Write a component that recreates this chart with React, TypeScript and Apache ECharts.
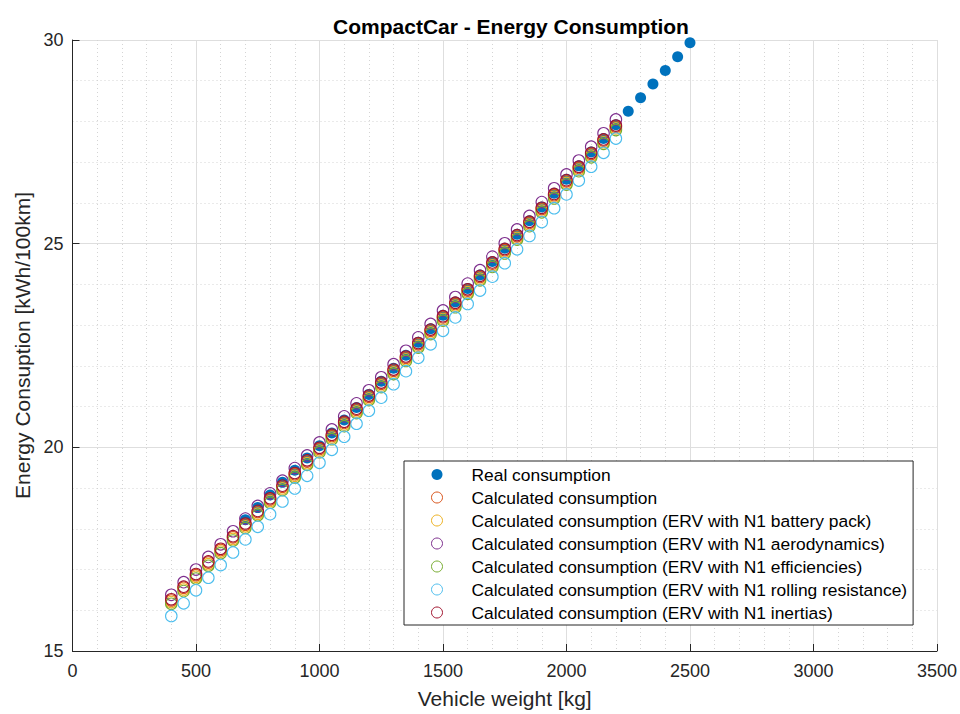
import React, { useEffect, useRef } from "react";
import * as echarts from "echarts";

const calcWeights = [400, 450, 500, 550, 600, 650, 700, 750, 800, 850, 900, 950, 1000, 1050, 1100, 1150, 1200, 1250, 1300, 1350, 1400, 1450, 1500, 1550, 1600, 1650, 1700, 1750, 1800, 1850, 1900, 1950, 2000, 2050, 2100, 2150, 2200];
const realWeights = [700, 750, 800, 850, 900, 950, 1000, 1050, 1100, 1150, 1200, 1250, 1300, 1350, 1400, 1450, 1500, 1550, 1600, 1650, 1700, 1750, 1800, 1850, 1900, 1950, 2000, 2050, 2100, 2150, 2200, 2250, 2300, 2350, 2400, 2450, 2500];

const realConsumption = [18.22, 18.52, 18.83, 19.14, 19.44, 19.74, 20.04, 20.35, 20.67, 20.98, 21.30, 21.62, 21.94, 22.26, 22.58, 22.91, 23.24, 23.57, 23.90, 24.23, 24.56, 24.89, 25.23, 25.56, 25.90, 26.24, 26.58, 26.91, 27.25, 27.58, 27.92, 28.25, 28.58, 28.92, 29.25, 29.59, 29.93];
const calculated = [16.24, 16.55, 16.86, 17.17, 17.48, 17.79, 18.10, 18.41, 18.72, 19.03, 19.34, 19.65, 19.96, 20.28, 20.60, 20.92, 21.24, 21.56, 21.88, 22.20, 22.53, 22.86, 23.19, 23.52, 23.85, 24.18, 24.51, 24.84, 25.18, 25.51, 25.85, 26.19, 26.53, 26.86, 27.20, 27.53, 27.87];
const batteryPack = [16.20, 16.51, 16.82, 17.13, 17.44, 17.75, 18.06, 18.37, 18.68, 18.99, 19.30, 19.61, 19.92, 20.24, 20.56, 20.88, 21.20, 21.52, 21.84, 22.16, 22.49, 22.82, 23.15, 23.48, 23.81, 24.14, 24.47, 24.80, 25.14, 25.47, 25.81, 26.15, 26.49, 26.82, 27.16, 27.49, 27.83];
const aerodynamics = [16.38, 16.69, 17.00, 17.31, 17.62, 17.94, 18.25, 18.56, 18.87, 19.18, 19.49, 19.80, 20.12, 20.44, 20.76, 21.08, 21.40, 21.72, 22.04, 22.37, 22.70, 23.03, 23.36, 23.69, 24.02, 24.35, 24.68, 25.01, 25.35, 25.68, 26.02, 26.36, 26.70, 27.04, 27.38, 27.71, 28.05];
const efficiencies = [16.16, 16.47, 16.78, 17.09, 17.40, 17.71, 18.02, 18.33, 18.64, 18.95, 19.26, 19.57, 19.88, 20.20, 20.52, 20.84, 21.16, 21.48, 21.80, 22.12, 22.45, 22.78, 23.11, 23.44, 23.77, 24.10, 24.43, 24.76, 25.10, 25.43, 25.77, 26.11, 26.45, 26.78, 27.12, 27.45, 27.79];
const rollingResistance = [15.86, 16.17, 16.49, 16.80, 17.11, 17.42, 17.74, 18.05, 18.36, 18.67, 18.99, 19.30, 19.62, 19.94, 20.26, 20.58, 20.90, 21.22, 21.55, 21.87, 22.20, 22.53, 22.86, 23.19, 23.52, 23.85, 24.19, 24.52, 24.86, 25.19, 25.53, 25.87, 26.21, 26.55, 26.89, 27.23, 27.58];
const inertias = [16.27, 16.58, 16.89, 17.20, 17.51, 17.82, 18.13, 18.44, 18.75, 19.06, 19.37, 19.68, 19.99, 20.31, 20.63, 20.95, 21.27, 21.59, 21.91, 22.23, 22.56, 22.89, 23.22, 23.55, 23.88, 24.21, 24.54, 24.87, 25.21, 25.54, 25.88, 26.22, 26.56, 26.89, 27.23, 27.56, 27.90];

const seriesNames = [
  "Real consumption",
  "Calculated consumption",
  "Calculated consumption (ERV with N1 battery pack)",
  "Calculated consumption (ERV with N1 aerodynamics)",
  "Calculated consumption (ERV with N1 efficiencies)",
  "Calculated consumption (ERV with N1 rolling resistance)",
  "Calculated consumption (ERV with N1 inertias)",
];
const seriesColors = ["#0072BD", "#D95319", "#EDB120", "#7E2F8E", "#77AC30", "#4DBEEE", "#A2142F"];
const calcSeries = [calculated, batteryPack, aerodynamics, efficiencies, rollingResistance, inertias];

const FONT = "'Liberation Sans', Arial, Helvetica, sans-serif";
const AX = "#262626";

export default function App() {
  const ref = useRef<HTMLDivElement>(null);
  useEffect(() => {
    if (!ref.current) return;
    const chart = echarts.init(ref.current, undefined, { renderer: "svg" });
    const zip = (xs: number[], ys: number[]) => xs.map((x, i) => [x, ys[i]]);
    const series: any[] = [
      {
        name: seriesNames[0],
        type: "scatter",
        symbol: "circle",
        symbolSize: 11,
        itemStyle: { color: seriesColors[0], opacity: 1 },
        data: zip(realWeights, realConsumption),
      },
      ...calcSeries.map((vals, i) => ({
        name: seriesNames[i + 1],
        type: "scatter",
        symbol: "circle",
        symbolSize: 11.5,
        itemStyle: { color: "transparent", borderColor: seriesColors[i + 1], borderWidth: 1.1, opacity: 1 },
        data: zip(calcWeights, vals),
      })),
    ];
    chart.setOption({
      animation: false,
      textStyle: { fontFamily: FONT },
      title: {
        text: "CompactCar - Energy Consumption",
        left: 506,
        textAlign: "center",
        top: 11,
        textStyle: { fontSize: 21, fontWeight: "bold", color: "#000", fontFamily: FONT },
      },
      grid: { left: 72.5, right: 18.5, top: 40, bottom: 59, containLabel: false },
      legend: {
        orient: "vertical",
        left: 404,
        top: 461,
        backgroundColor: "#fff",
        borderColor: AX,
        borderWidth: 1,
        borderRadius: 0,
        padding: [5, 6, 4, 27],
        itemWidth: 11,
        itemHeight: 11,
        itemGap: 6,
        itemStyle: { borderWidth: 1 },
        selectedMode: false,
        textStyle: { fontSize: 17.4, lineHeight: 16, color: "#000", fontFamily: FONT, padding: [0, 0, 0, 24] },
        data: seriesNames,
      },
      xAxis: {
        type: "value",
        min: 0,
        max: 3500,
        interval: 500,
        name: "Vehicle weight [kg]",
        nameLocation: "middle",
        nameGap: 37,
        nameTextStyle: { fontSize: 21, color: AX, fontFamily: FONT },
        axisLine: { show: true, onZero: false, lineStyle: { color: AX, width: 1 } },
        axisTick: { show: true, inside: true, length: 7, lineStyle: { color: AX } },
        axisLabel: { fontSize: 18, color: AX, margin: 11, fontFamily: FONT, formatter: (v: number) => String(v) },
        splitLine: { show: true, lineStyle: { color: "#dedede", width: 1 } },
        minorTick: { show: false, splitNumber: 5 },
        minorSplitLine: { show: true, lineStyle: { color: "#d4d4d4", type: [1, 3], width: 1 } },
      },
      yAxis: {
        type: "value",
        min: 15,
        max: 30,
        interval: 5,
        name: "Energy Consuption [kWh/100km]",
        nameLocation: "middle",
        nameGap: 36,
        nameTextStyle: { fontSize: 21, color: AX, fontFamily: FONT },
        axisLine: { show: true, onZero: false, lineStyle: { color: AX, width: 1 } },
        axisTick: { show: true, inside: true, length: 7, lineStyle: { color: AX } },
        axisLabel: { fontSize: 18, color: AX, margin: 9, fontFamily: FONT, formatter: (v: number) => String(v) },
        splitLine: { show: true, lineStyle: { color: "#dedede", width: 1 } },
        minorTick: { show: false, splitNumber: 5 },
        minorSplitLine: { show: true, lineStyle: { color: "#d4d4d4", type: [1, 3], width: 1 } },
      },
      series,
    });
    return () => chart.dispose();
  }, []);
  return (
    <div
      ref={ref}
      style={{ position: "fixed", left: 0, top: 0, width: 960, height: 714, background: "#fff" }}
    />
  );
}
